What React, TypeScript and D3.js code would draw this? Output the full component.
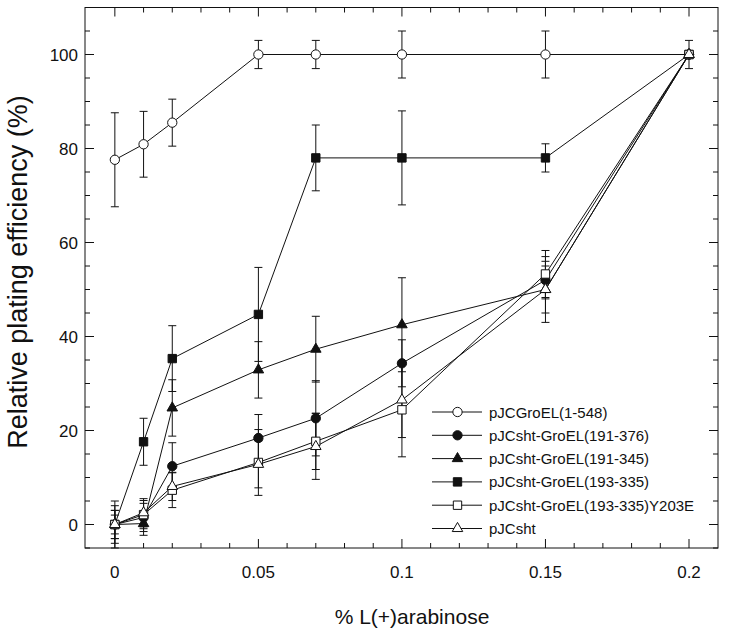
import React, { useEffect, useRef } from 'react';
import * as d3 from 'd3';

// arabinose concentrations (%)
const doses = [0, 0.01, 0.02, 0.05, 0.07, 0.1, 0.15, 0.2];

const seriesNames = [
  'pJCGroEL(1-548)',
  'pJCsht-GroEL(191-376)',
  'pJCsht-GroEL(191-345)',
  'pJCsht-GroEL(193-335)',
  'pJCsht-GroEL(193-335)Y203E',
  'pJCsht',
];

const groel1548 = [77.6, 80.9, 85.5, 100, 100, 100, 100, 100];
const groel191376 = [0, 1.5, 12.4, 18.4, 22.6, 34.3, 52, 100];
const groel191345 = [0, 0.2, 24.8, 32.9, 37.3, 42.5, 50, 100];
const groel193335 = [0, 17.6, 35.3, 44.7, 78, 78, 78, 100];
const groelY203E = [0, 2.1, 7.3, 13.2, 17.7, 24.4, 53.3, 100];
const sht = [0, 2.5, 8.1, 12.8, 16.6, 26.5, 50, 100];

const err1548 = [10, 7, 5, 3, 3, 5, 5, 3];
const err191376 = [3, 3, 5, 5, 8, 5, 4, 0];
const err191345 = [2, 2.5, 6, 6, 7, 10, 5, 0];
const err193335 = [5, 5, 7, 10, 7, 10, 3, 0];
const errY203E = [4, 3, 3.7, 7, 6, 10, 5, 0];
const errSht = [3, 3, 3, 5, 7, 8, 7, 0];

const seriesValues = [groel1548, groel191376, groel191345, groel193335, groelY203E, sht];
const seriesErrors = [err1548, err191376, err191345, err193335, errY203E, errSht];
const seriesShapes = ['circle', 'circle', 'triangle', 'square', 'square', 'triangle'];
const seriesFilled = [false, true, true, true, false, false];

const xTicks = [0, 0.05, 0.1, 0.15, 0.2];
const yTicks = [0, 20, 40, 60, 80, 100];

const App: React.FC = () => {
  const svgRef = useRef<SVGSVGElement | null>(null);

  useEffect(() => {
    if (!svgRef.current) return;
    const svg = d3.select(svgRef.current);
    svg.selectAll('*').remove();

    const font = '"Liberation Sans", Arial, Helvetica, sans-serif';
    const ink = '#111';

    const x = d3.scaleLinear().domain([-0.0104, 0.2101]).range([85, 718]);
    const y = d3.scaleLinear().domain([-5, 110]).range([548, 7.5]);
    const [x0, x1] = x.range();
    const [y0, y1] = y.range();

    const g = svg.append('g');

    // frame
    g.append('rect')
      .attr('x', x0).attr('y', y1)
      .attr('width', x1 - x0).attr('height', y0 - y1)
      .attr('fill', 'none').attr('stroke', ink).attr('stroke-width', 1);

    // inward ticks on all four sides
    const yMinor = d3.range(-5, 111, 5);
    yMinor.forEach(v => {
      const len = v % 20 === 0 ? 9 : 5;
      g.append('line').attr('x1', x0).attr('x2', x0 + len)
        .attr('y1', y(v)).attr('y2', y(v)).attr('stroke', ink);
      g.append('line').attr('x1', x1).attr('x2', x1 - len)
        .attr('y1', y(v)).attr('y2', y(v)).attr('stroke', ink);
    });
    const xMinor = d3.range(0, 21).map(i => i / 100);
    xMinor.forEach((v, i) => {
      const len = i % 5 === 0 ? 9 : 5;
      g.append('line').attr('x1', x(v)).attr('x2', x(v))
        .attr('y1', y0).attr('y2', y0 - len).attr('stroke', ink);
      g.append('line').attr('x1', x(v)).attr('x2', x(v))
        .attr('y1', y1).attr('y2', y1 + len).attr('stroke', ink);
    });

    // tick labels
    g.selectAll('.ylab').data(yTicks).enter().append('text')
      .attr('x', 78).attr('y', d => y(d) + 6)
      .attr('text-anchor', 'end').attr('font-family', font)
      .attr('font-size', '17px').attr('fill', ink).text(d => d);

    g.selectAll('.xlab').data(xTicks).enter().append('text')
      .attr('x', d => x(d)).attr('y', 578)
      .attr('text-anchor', 'middle').attr('font-family', font)
      .attr('font-size', '17px').attr('fill', ink).text(d => String(d));

    // axis titles
    g.append('text')
      .attr('x', 412).attr('y', 624)
      .attr('text-anchor', 'middle').attr('font-family', font)
      .attr('font-size', '21px').attr('fill', ink)
      .text('% L(+)arabinose');

    g.append('text')
      .attr('transform', 'translate(27,272) rotate(-90)')
      .attr('text-anchor', 'middle').attr('font-family', font)
      .attr('font-size', '27px').attr('fill', ink)
      .text('Relative plating efficiency (%)');

    const symbolFor = (shape: string) => {
      if (shape === 'circle') return d3.symbol().type(d3.symbolCircle).size(68)();
      if (shape === 'square') return d3.symbol().type(d3.symbolSquare).size(70)();
      return d3.symbol().type(d3.symbolTriangle).size(48)();
    };

    const line = d3.line<[number, number]>().x(d => x(d[0])).y(d => y(d[1]));

    // series: error bars, then connecting lines, then markers
    seriesValues.forEach((vals, s) => {
      const errs = seriesErrors[s];
      const sg = g.append('g');
      doses.forEach((d, i) => {
        const e = errs[i];
        if (!e) return;
        const cx = x(d);
        sg.append('line').attr('x1', cx).attr('x2', cx)
          .attr('y1', y(vals[i] - e)).attr('y2', y(vals[i] + e)).attr('stroke', ink);
        [vals[i] - e, vals[i] + e].forEach(v => {
          sg.append('line').attr('x1', cx - 4).attr('x2', cx + 4)
            .attr('y1', y(v)).attr('y2', y(v)).attr('stroke', ink);
        });
      });
    });

    seriesValues.forEach(vals => {
      g.append('path')
        .datum(doses.map((d, i) => [d, vals[i]] as [number, number]))
        .attr('d', line).attr('fill', 'none')
        .attr('stroke', ink).attr('stroke-width', 1);
    });

    seriesValues.forEach((vals, s) => {
      const path = symbolFor(seriesShapes[s]);
      doses.forEach((d, i) => {
        g.append('path')
          .attr('d', path)
          .attr('transform', `translate(${x(d)},${y(vals[i])})`)
          .attr('fill', seriesFilled[s] ? ink : '#fff')
          .attr('stroke', ink).attr('stroke-width', 1);
      });
    });

    // legend
    const legend = g.append('g');
    seriesNames.forEach((name, s) => {
      const ly = 412 + s * 23.3;
      legend.append('line').attr('x1', 432).attr('x2', 482)
        .attr('y1', ly).attr('y2', ly).attr('stroke', ink).attr('stroke-width', 1);
      legend.append('path')
        .attr('d', symbolFor(seriesShapes[s]))
        .attr('transform', `translate(457.5,${ly})`)
        .attr('fill', seriesFilled[s] ? ink : '#fff')
        .attr('stroke', ink).attr('stroke-width', 1);
      legend.append('text')
        .attr('x', 489).attr('y', ly + 5.5)
        .attr('font-family', font).attr('font-size', '15px').attr('fill', ink)
        .text(name);
    });
  }, []);

  return (
    <svg
      ref={svgRef}
      width={729}
      height={633}
      style={{ position: 'absolute', left: 0, top: 0, background: '#fff' }}
    />
  );
};

export default App;
